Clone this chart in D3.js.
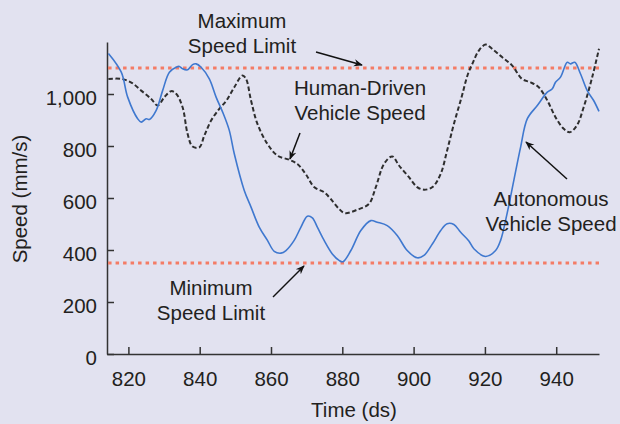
<!DOCTYPE html>
<html>
<head>
<meta charset="utf-8">
<script src="https://cdn.jsdelivr.net/npm/d3@7"></script>
<style>
  html, body { margin: 0; padding: 0; background: #e2e2f0; }
  svg { display: block; font-family: "Liberation Sans", Arial, sans-serif; }
  .axis path, .axis line { stroke: #333; stroke-width: 1.5; }
  .axis text { font-size: 20.5px; fill: #231f20; }
  .note { font-size: 20.5px; fill: #231f20; }
</style>
</head>
<body>
<div id="chart"></div>
<script>
// time (ds) and speed (mm/s)
const autoTime = [814.4, 818, 819.8, 822.6, 823.6, 825, 825.9, 827.8, 829.6, 831.5, 833.4, 834.3, 835.2, 836.6, 838, 839, 840.4,
  842.7, 844.6, 846.6, 848.3, 849.7, 852.5, 854.4, 856.7, 859, 860.9, 862.8, 864.2, 866.5, 868.4, 870.2, 871.6, 873, 874.9,
  877.2, 879.1, 880.2, 882.4, 885.2, 888, 889.8, 892.6, 895.4, 898.2, 901, 902.9, 905.3, 907.6, 909.4, 911.3, 913.2, 915.5,
  916.9, 920.2, 923, 924.4, 926.2, 928.1, 930, 931.9, 934.7, 937.5, 938.9, 939.8, 941.2, 943.1, 944, 945.2, 946.8, 948.7,
  950.5, 952];
const autoSpeed = [1156, 1084, 988, 905, 892, 905, 902, 937, 1013, 1084, 1103, 1106, 1097, 1093, 1113, 1116, 1103,
  1058, 988, 925, 860, 770, 629, 565, 488, 437, 395, 388, 398, 437, 488, 530, 524, 488, 437,
  385, 360, 355, 398, 475, 513, 507, 494, 456, 398, 370, 379, 424, 475, 501, 498, 468, 435,
  405, 375, 398, 437, 539, 667, 795, 905, 956, 1007, 1020, 1045, 1065, 1122, 1116, 1122, 1078, 1013,
  975, 933];

const humanTime = [814.4, 818, 820.7, 823.6, 826.4, 828.2, 830.1, 832, 833.4, 835.2, 836.6, 838, 839.9, 841.3, 843.2, 845.5,
  847.5, 849.7, 852, 853, 854.4, 856.2, 859, 861.8, 865.1, 867.4, 869.7, 872.1, 874.9, 876.7, 879.1, 880.7,
  884.2, 887.5, 889.4, 891.7, 894, 895.9, 898.7, 901, 902.9, 905.3, 907.6, 909.4, 911.3, 913.4, 915.2,
  916.6, 918.3, 920.2, 922, 924.8, 927.6, 930.4, 932.8, 935.1, 937.5, 939.8, 942.1, 943.8, 945.8, 947.7, 950.1, 952];
const humanSpeed = [1058, 1058, 1045, 1013, 981, 956, 988, 1011, 1001, 949, 847, 798, 795, 840, 898, 943,
  975, 1026, 1071, 1058, 975, 885, 808, 763, 747, 731, 693, 642, 622, 597, 558, 542,
  555, 578, 642, 731, 760, 725, 680, 642, 632, 642, 693, 783, 885, 985, 1075,
  1120, 1167, 1190, 1174, 1142, 1110, 1058, 1045, 1026, 975, 911, 866, 853, 879, 949, 1065, 1174];

const maxLimit = 1100;
const minLimit = 350;

const xTicks = [820, 840, 860, 880, 900, 920, 940];
const yTicks = [0, 200, 400, 600, 800, 1000];

const xLabel = "Time (ds)";
const yLabel = "Speed (mm/s)";

function buildViz() {
    const width = 620, height = 424;
    const margin = { top: 42, right: 21, bottom: 70, left: 107 };

    const svg = d3.select("#chart").append("svg")
        .attr("width", width)
        .attr("height", height);

    svg.append("rect").attr("width", width).attr("height", height).attr("fill", "#e2e2f0");

    const x = d3.scaleLinear()
        .domain([814, 952])
        .range([margin.left, width - margin.right]);

    const y = d3.scaleLinear()
        .domain([0, 1200])
        .range([height - margin.bottom, margin.top]);

    // axes, ticks pointing inward
    svg.append("g")
        .attr("class", "axis")
        .attr("transform", `translate(0,${y(0)})`)
        .call(d3.axisBottom(x).tickValues(xTicks).tickSize(-7).tickPadding(17).tickSizeOuter(0))
        .call(g => g.selectAll("text").attr("dy", "0.71em"));

    svg.append("g")
        .attr("class", "axis")
        .attr("transform", `translate(${margin.left},0)`)
        .call(d3.axisLeft(y).tickValues(yTicks).tickSize(-7).tickPadding(10).tickSizeOuter(0)
            .tickFormat(d3.format(",")))
        .call(g => g.selectAll("text").attr("dy", "0.5em"));

    svg.append("text")
        .attr("class", "note")
        .attr("x", 354).attr("y", 417)
        .attr("text-anchor", "middle")
        .text(xLabel);

    svg.append("text")
        .attr("class", "note")
        .attr("transform", "translate(27,199) rotate(-90)")
        .attr("text-anchor", "middle")
        .text(yLabel);

    // speed limits
    [maxLimit, minLimit].forEach(v => {
        svg.append("line")
            .attr("x1", x(814.3)).attr("x2", x(952))
            .attr("y1", y(v)).attr("y2", y(v))
            .attr("stroke", "#f47c66")
            .attr("stroke-width", 3)
            .attr("stroke-dasharray", "3.5,4");
    });

    const line = d3.line()
        .x(d => x(d[0]))
        .y(d => y(d[1]))
        .curve(d3.curveCatmullRom.alpha(0.5));

    svg.append("path")
        .datum(humanTime.map((t, i) => [t, humanSpeed[i]]))
        .attr("fill", "none")
        .attr("stroke", "#2e2e2e")
        .attr("stroke-width", 2)
        .attr("stroke-dasharray", "4.5,2.5")
        .attr("d", line);

    svg.append("path")
        .datum(autoTime.map((t, i) => [t, autoSpeed[i]]))
        .attr("fill", "none")
        .attr("stroke", "#3f78cf")
        .attr("stroke-width", 1.6)
        .attr("d", line);

    // annotations
    svg.append("defs").append("marker")
        .attr("id", "arrow")
        .attr("viewBox", "0 0 10 10")
        .attr("refX", 9).attr("refY", 5)
        .attr("markerWidth", 9).attr("markerHeight", 9)
        .attr("markerUnits", "userSpaceOnUse")
        .attr("orient", "auto")
        .append("path")
        .attr("d", "M0,1 L10,5 L0,9 L3,5 Z")
        .attr("fill", "#111");

    const notes = [
        { lines: ["Maximum", "Speed Limit"], x: 242, y: 28, arrow: [316, 52, 362, 65] },
        { lines: ["Human-Driven", "Vehicle Speed"], x: 360, y: 95, arrow: [300, 133, 290, 159] },
        { lines: ["Autonomous", "Vehicle Speed"], x: 551, y: 206, arrow: [567, 179, 526, 142] },
        { lines: ["Minimum", "Speed Limit"], x: 211, y: 295, arrow: [273, 297, 304, 266] }
    ];

    notes.forEach(n => {
        const t = svg.append("text")
            .attr("class", "note")
            .attr("text-anchor", "middle");
        n.lines.forEach((s, i) => {
            t.append("tspan").attr("x", n.x).attr("y", n.y + i * 25).text(s);
        });
        svg.append("line")
            .attr("x1", n.arrow[0]).attr("y1", n.arrow[1])
            .attr("x2", n.arrow[2]).attr("y2", n.arrow[3])
            .attr("stroke", "#111")
            .attr("stroke-width", 1.5)
            .attr("marker-end", "url(#arrow)");
    });
}

buildViz();
</script>
</body>
</html>
